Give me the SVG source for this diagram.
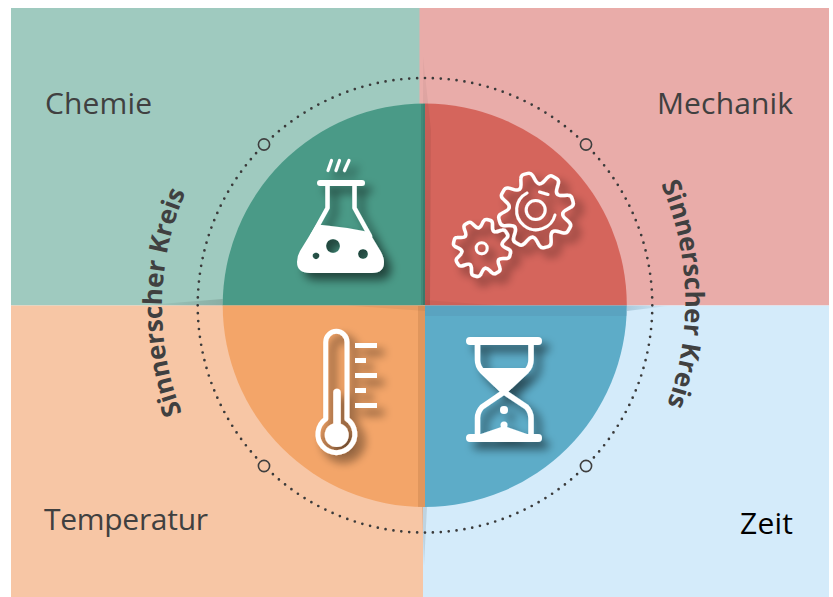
<svg xmlns="http://www.w3.org/2000/svg" xmlns:xlink="http://www.w3.org/1999/xlink" width="833" height="597" viewBox="0 0 833 597">
<style>
.lbl{font-family:"Open Sans","Noto Sans",sans-serif;font-size:30px;fill:#404040}
.arc{font-family:"Open Sans","Noto Sans",sans-serif;font-size:26px;font-weight:700;fill:#404040}
.ln{fill:none;stroke:#fff;stroke-linecap:round;stroke-linejoin:round}
.sm{stroke:#3f3f3f;stroke-width:1.6}
</style>
<defs>
<filter id="sh" x="-40%" y="-40%" width="190%" height="190%"><feGaussianBlur in="SourceAlpha" stdDeviation="5"/><feOffset dx="7" dy="7"/><feComponentTransfer><feFuncA type="linear" slope="0.55"/></feComponentTransfer><feMerge><feMergeNode/><feMergeNode in="SourceGraphic"/></feMerge></filter>
<linearGradient id="wl" x1="0" x2="1" y1="0" y2="0"><stop offset="0" stop-color="#000" stop-opacity="0"/><stop offset="1" stop-color="#000" stop-opacity=".14"/></linearGradient>
<linearGradient id="wr" x1="0" x2="1" y1="0" y2="0"><stop offset="0" stop-color="#4a7f9a" stop-opacity=".3"/><stop offset="1" stop-color="#4a7f9a" stop-opacity="0"/></linearGradient>
<linearGradient id="vt" x1="0" x2="0" y1="0" y2="1"><stop offset="0" stop-color="#000" stop-opacity=".03"/><stop offset="1" stop-color="#000" stop-opacity=".13"/></linearGradient>
<path id="pl" d="M182 413A290 290 0 0 1 188 187"/>
<path id="pr" d="M661 184A300 300 0 0 1 664 413"/>
<path id="tooth" d="M-10.300-24.900C-7-26-7.500-31-6-35Q-5-38-2-38H2Q5-38 6-35C7.500-31 7-26 10.300-24.900"/>
</defs>
<rect width="833" height="597" fill="#fff"/>
<g id="quadrants">
<rect id="q-chemie" x="11" y="8" width="409" height="297.500" fill="#9fcabf"/>
<rect id="q-mechanik" x="419.500" y="8" width="409.500" height="297.500" fill="#e9aca9"/>
<rect id="q-temperatur" x="11" y="305.500" width="412" height="291.500" fill="#f7c6a5"/>
<rect id="q-zeit" x="423" y="305.500" width="406" height="291.500" fill="#d4ebfa"/>
</g>
<g id="disc">
<path d="M425 103.500A202 202 0 0 0 222.700 305.500H425Z" fill="#4a9a87"/>
<path d="M425 103.500A202 202 0 0 1 626.800 305.500H425Z" fill="#d5655c"/>
<path d="M222.700 305.500A202 202 0 0 0 425 507V305.500Z" fill="#f3a569"/>
<path d="M626.800 305.500A202 202 0 0 1 425 507V305.500Z" fill="#5dacc8"/>
</g>
<g id="folds">
<path d="M423 56L431 130L430 305H423Z" fill="url(#vt)"/>
<path d="M421 305H425V104H421Z" fill="#000" opacity=".1"/>
<path d="M418 306H425V507H418Z" fill="#7a4a20" opacity=".16"/>
<path d="M425 507H427L424 566L422 507Z" fill="#000" opacity=".1"/>
<path d="M140 305.500L222.700 299V305.500Z" fill="url(#wl)"/>
<path d="M347 305.500H425V311Z" fill="#000" opacity=".05"/>
<path d="M425 300L498 305.500H425Z" fill="#000" opacity=".04"/>
<path d="M425 305.500H627V316H425Z" fill="#336" opacity=".07"/>
<path d="M627 305.500H672L627 311Z" fill="url(#wr)"/>
</g>
<g id="ring">
<circle cx="425" cy="305.300" r="227.300" fill="none" stroke="#3a3a3a" stroke-width="2.700" stroke-linecap="round" stroke-dasharray="0 1" pathLength="180"/>
<circle class="sm" cx="264" cy="144.500" r="5.600" fill="#9fcabf"/>
<circle class="sm" cx="586" cy="144.500" r="5.600" fill="#e9aca9"/>
<circle class="sm" cx="264" cy="466" r="5.600" fill="#f7c6a5"/>
<circle class="sm" cx="586" cy="466" r="5.600" fill="#d4ebfa"/>
</g>
<g id="flask" filter="url(#sh)">
<path class="ln" style="stroke-width:3.200" d="M328 170.500L331.500 160.500M336 170.500L339.500 160.500M344.500 170.500L349 160.500"/>
<path class="ln" style="stroke-width:6" d="M320 183H362"/>
<path class="ln" style="stroke-width:4.500" d="M327.500 184V208L312 236M354.500 184V208L370 236"/>
<path fill="#fff" fill-rule="evenodd" d="M316 225H322Q345 227 369 232L381 252Q384 258 384 262Q384 273 372 273H310Q297 273 297 262Q297 256 300 251ZM333 239a7 7 0 1 0 .01 0ZM363 249a5 5 0 1 0 .01 0ZM316 252.400a3.400 3.400 0 1 0 .01 0Z"/>
</g>
<g id="gears" filter="url(#sh)">
<g transform="translate(536 210.500) rotate(-15.500)" class="ln" style="stroke-width:3.500">
<use xlink:href="#tooth"/><use xlink:href="#tooth" transform="rotate(45)"/><use xlink:href="#tooth" transform="rotate(90)"/><use xlink:href="#tooth" transform="rotate(135)"/><use xlink:href="#tooth" transform="rotate(180)"/><use xlink:href="#tooth" transform="rotate(225)"/><use xlink:href="#tooth" transform="rotate(270)"/><use xlink:href="#tooth" transform="rotate(315)"/>
</g>
<g transform="translate(482 248) rotate(13) scale(.76)" class="ln" style="stroke-width:4.600">
<use xlink:href="#tooth"/><use xlink:href="#tooth" transform="rotate(45)"/><use xlink:href="#tooth" transform="rotate(90)"/><use xlink:href="#tooth" transform="rotate(135)"/><use xlink:href="#tooth" transform="rotate(180)"/><use xlink:href="#tooth" transform="rotate(225)"/><use xlink:href="#tooth" transform="rotate(270)"/><use xlink:href="#tooth" transform="rotate(315)"/>
</g>
<circle class="ln" cx="535.700" cy="210" r="9.500" style="stroke-width:3"/>
<path class="ln" style="stroke-width:3" d="M527 193A19.500 19.500 0 1 0 555 215M539.500 192L548 194.500"/>
<circle class="ln" cx="481.700" cy="248.300" r="5.500" style="stroke-width:3"/>
</g>
<g id="thermometer" filter="url(#sh)">
<path class="ln" style="stroke-width:5" d="M325.700 419V342A10.650 10.650 0 0 1 347 342V419A18.500 18.500 0 1 1 325.700 419Z"/>
<circle cx="336.700" cy="435" r="12" fill="#fff"/>
<path class="ln" style="stroke-width:7.500" d="M337 425V392.500"/>
<path d="M355 343H377V348H355ZM355 358H366V363H355ZM355 373H377V378H355ZM355 388H366V393H355ZM355 403H377V408H355Z" fill="#fff"/>
</g>
<g id="hourglass" filter="url(#sh)">
<path class="ln" style="stroke-width:8" d="M470 341H538M470 438H538"/>
<path class="ln" style="stroke-width:5.500" d="M477.500 343V360Q477.500 366 482 371L504 392L526.500 371Q531 366 531 360V343M477.500 436V418Q477.500 412 482 407L504 392L526.500 407Q531 412 531 418V436"/>
<path fill="#fff" d="M481 368H527L504 394ZM481 434L504 426L527 434V437H481Z"/>
<circle cx="504" cy="410" r="4" fill="#fff"/><circle cx="504" cy="425" r="3.500" fill="#fff"/>
</g>
<g id="labels">
<text class="lbl" x="45" y="114" textLength="107">Chemie</text>
<text class="lbl" x="657" y="114" textLength="136">Mechanik</text>
<text class="lbl" x="44" y="530" textLength="164">Temperatur</text>
<text class="lbl" x="740" y="534" textLength="53" style="fill:#000">Zeit</text>
<text class="arc"><textPath xlink:href="#pl" href="#pl">Sinnerscher Kreis</textPath></text>
<text class="arc"><textPath xlink:href="#pr" href="#pr">Sinnerscher Kreis</textPath></text>
</g>
</svg>
